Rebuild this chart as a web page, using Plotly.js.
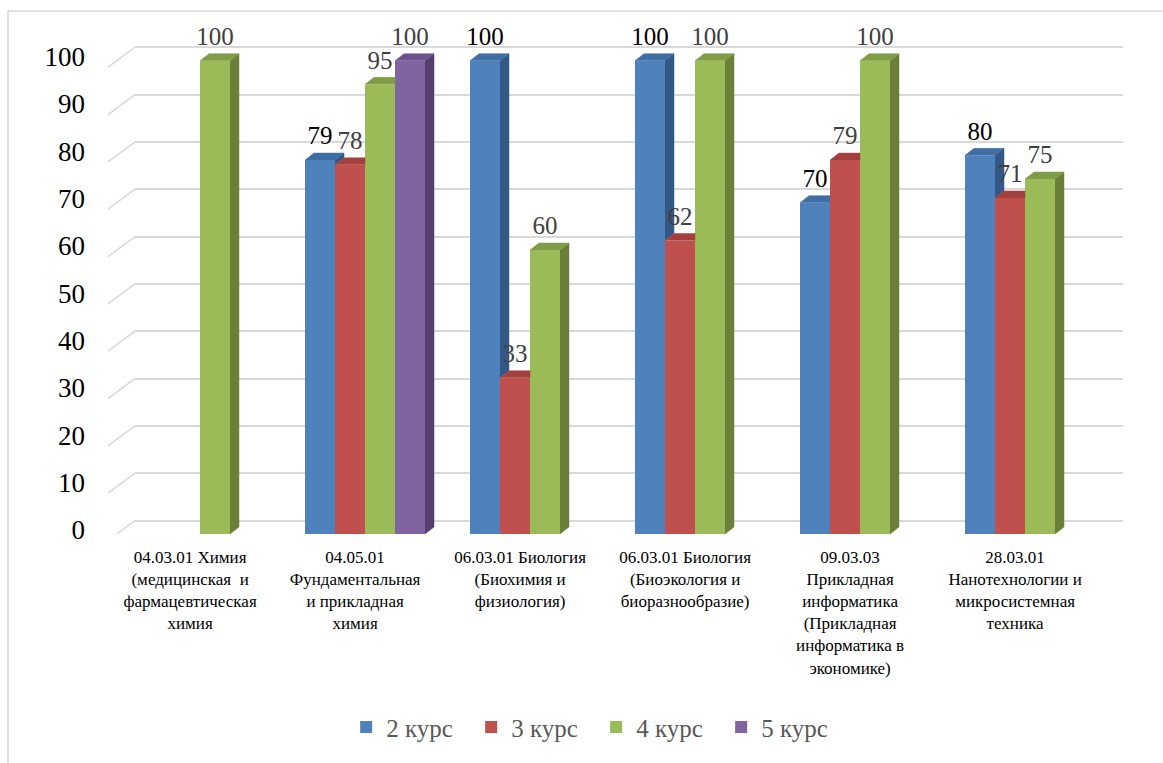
<!DOCTYPE html>
<html><head><meta charset="utf-8">
<script src="https://cdn.plot.ly/plotly-3.0.1.min.js"></script>
<style>html,body{margin:0;padding:0;background:#fff}#chart{width:1163px;height:763px}</style>
</head><body><div id="chart"></div>
<script>
// ---- data ----
const categories = [
  "04.03.01 Химия<br>(медицинская  и<br>фармацевтическая<br>химия",
  "04.05.01<br>Фундаментальная<br>и прикладная<br>химия",
  "06.03.01 Биология<br>(Биохимия и<br>физиология)",
  "06.03.01 Биология<br>(Биоэкология и<br>биоразнообразие)",
  "09.03.03<br>Прикладная<br>информатика<br>(Прикладная<br>информатика в<br>экономике)",
  "28.03.01<br>Нанотехнологии и<br>микросистемная<br>техника"
];
const seriesNames = ["2 курс", "3 курс", "4 курс", "5 курс"];
const course2 = [null, 79, 100, 100, 70, 80];
const course3 = [null, 78, 33, 62, 79, 71];
const course4 = [100, 95, 60, 100, 100, 75];
const course5 = [null, 100, null, null, null, null];
const yTickVals = [0, 10, 20, 30, 40, 50, 60, 70, 80, 90, 100];

// ---- styling ----
const series = [course2, course3, course4, course5];
const frontColors = ["#4f81bd", "#c0504d", "#9bbb59", "#8064a2"];
const sideColors  = ["#335885", "#8e3a38", "#6a7f3a", "#553f70"];
const topColors   = ["#416da5", "#a3403d", "#7f9c47", "#6b528e"];
const labelColors = ["#000000", "#404040", "#404040", "#404040"];
const serifFamily = "Liberation Serif";

const W = 1163, H = 763;
const M = {l: 100, r: 40, t: 37, b: 227};
const plotW = W - M.l - M.r, plotH = H - M.t - M.b;
const yMax = 105;
const pxY = plotH / yMax;
const pxX = 165;
const xMin = -100 / pxX, xMax = xMin + plotW / pxX;
const barW = 30 / pxX, dX = 9 / pxX, dY = 7 / pxY;
const backShift = 13.5 / pxY;
const labelLift = 2.0;
const labelShift = -0.06;
const catPos = categories.map((c, i) => i);

const traces = [];
traces.push({type: "scatter", x: [], y: [], xaxis: "x", yaxis: "y", showlegend: false, hoverinfo: "skip"});

series.forEach((vals, k) => {
  traces.push({
    type: "bar", name: seriesNames[k], x: catPos, y: vals, xaxis: "x2", yaxis: "y2",
    width: barW, offset: (k - 2) * barW,
    marker: {color: frontColors[k], line: {width: 0}}, hoverinfo: "skip"
  });
});

series.forEach((vals, k) => {
  const next = series[k + 1];
  const sx = [], sy = [], tx = [], ty = [];
  vals.forEach((h, i) => {
    if (h == null) return;
    const xl = i + (k - 2) * barW, xr = xl + barW;
    const hn = next ? next[i] : null;
    if (hn == null || hn < h) {
      const base = hn == null ? 0 : hn;
      sx.push(xr, xr + dX, xr + dX, xr, null);
      sy.push(base, base + dY, h + dY, h, null);
    }
    tx.push(xl, xl + dX);
    ty.push(h, h + dY);
    if (hn != null && hn > h) {
      if (hn >= h + dY) {
        tx.push(xr, xr); ty.push(h + dY, h);
      } else {
        const t = (hn - h) / dY;
        tx.push(xr + dX, xr + t * dX, xr, xr);
        ty.push(h + dY, hn, hn, h);
      }
    } else {
      tx.push(xr + dX, xr); ty.push(h + dY, h);
    }
    tx.push(null); ty.push(null);
  });
  traces.push({type: "scatter", mode: "lines", x: sx, y: sy, xaxis: "x2", yaxis: "y2",
    fill: "toself", fillcolor: sideColors[k], line: {width: 0.5, color: sideColors[k]},
    showlegend: false, hoverinfo: "skip"});
  traces.push({type: "scatter", mode: "lines", x: tx, y: ty, xaxis: "x2", yaxis: "y2",
    fill: "toself", fillcolor: topColors[k], line: {width: 0.5, color: topColors[k]},
    showlegend: false, hoverinfo: "skip"});
});

series.forEach((vals, k) => {
  const lx = [], ly = [], lt = [];
  vals.forEach((h, i) => {
    if (h == null) return;
    lx.push(i + (k - 2) * barW + barW / 2);
    ly.push(h + labelLift);
    lt.push(String(h));
  });
  traces.push({type: "scatter", mode: "text", x: lx, y: ly, text: lt, xaxis: "x2", yaxis: "y2",
    textposition: "top center", cliponaxis: false,
    textfont: {family: serifFamily, size: 25, color: labelColors[k]},
    showlegend: false, hoverinfo: "skip"});
});

const gridColor = "#d9d9d9";
const shapes = yTickVals.map(v => ({
  type: "line", xref: "paper", yref: "y", ysizemode: "pixel", yanchor: v,
  x0: 8 / plotW, x1: 35 / plotW, y0: -20, y1: 0,
  line: {color: gridColor, width: 1.5}, layer: "below"
}));
shapes.push({type: "rect", xref: "paper", yref: "paper",
  x0: (8 - M.l) / plotW, x1: 1.5, y0: -1, y1: (plotH + M.t - 11) / plotH,
  line: {color: "#d9d9d9", width: 1.5}, fillcolor: "rgba(0,0,0,0)", layer: "below"});

const layout = {
  width: W, height: H, margin: M,
  paper_bgcolor: "#fff", plot_bgcolor: "rgba(0,0,0,0)",
  barmode: "overlay", showlegend: true,
  xaxis: {domain: [35 / plotW, 1], anchor: "y", range: [0, 1], visible: false, fixedrange: true},
  yaxis: {anchor: "x", range: [-backShift, yMax - backShift], tickvals: yTickVals,
    showgrid: true, gridcolor: gridColor, gridwidth: 1.5, showticklabels: false,
    zeroline: false, showline: false, ticks: "", fixedrange: true},
  xaxis2: {anchor: "y2", domain: [0, 1], range: [xMin, xMax],
    tickvals: catPos.map(i => i + labelShift), ticktext: categories, tickangle: 0,
    tickfont: {family: serifFamily, size: 17, color: "#000"}, ticklabelstandoff: 11,
    showgrid: false, zeroline: false, showline: false, ticks: "", fixedrange: true},
  yaxis2: {anchor: "x2", domain: [0, 1], range: [0, yMax], tickvals: yTickVals,
    tickfont: {family: serifFamily, size: 27, color: "#000"}, ticklabelstandoff: 14, ticklabelshift: -4,
    showgrid: false, zeroline: false, showline: false, ticks: "", fixedrange: true},
  legend: {orientation: "h", x: 0.485, xanchor: "center", y: -0.389, yanchor: "middle",
    font: {family: serifFamily, size: 25, color: "#595959"}, entrywidth: 80, entrywidthmode: "pixels",
    traceorder: "normal", bgcolor: "rgba(0,0,0,0)"},
  shapes: shapes
};

Plotly.newPlot("chart", traces, layout, {displayModeBar: false});
</script>
</body></html>
